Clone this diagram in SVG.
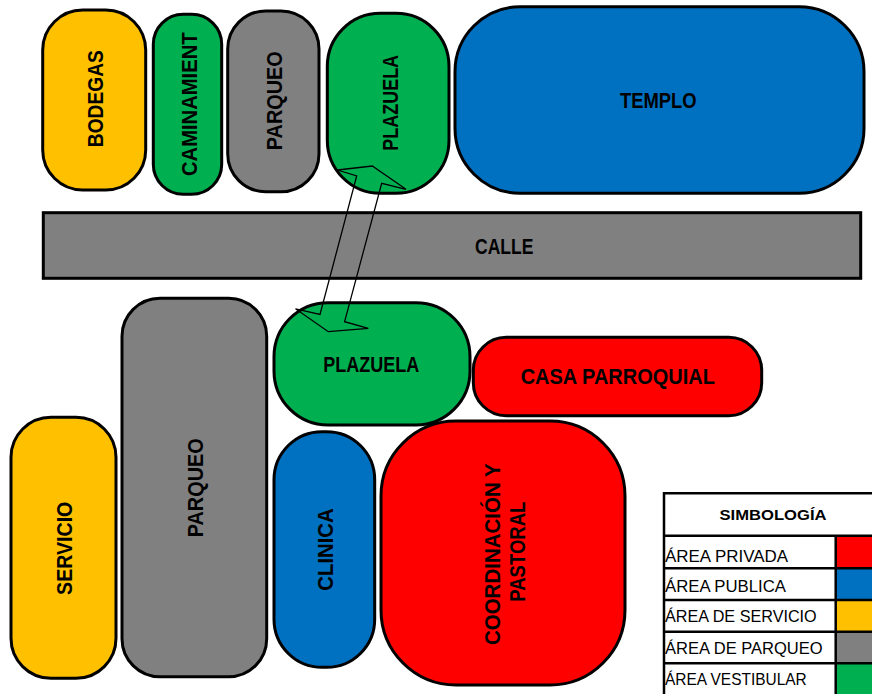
<svg xmlns="http://www.w3.org/2000/svg" width="872" height="694" viewBox="0 0 872 694">
<style>
.n{stroke:#000;stroke-width:3}
.y{fill:#FFC000}.g{fill:#00B050}.gr{fill:#808080}.b{fill:#0070C0}.r{fill:#FF0000}
.t{font-family:"Liberation Sans",Arial,sans-serif;font-weight:bold;font-size:22px;fill:#000;text-anchor:middle}
.lt{font-family:"Liberation Sans",Arial,sans-serif;font-size:16.5px;fill:#000}
.lh{font-family:"Liberation Sans",Arial,sans-serif;font-weight:bold;font-size:15px;fill:#000;text-anchor:middle}
.grid{stroke:#000;stroke-width:2.5;fill:none}
</style>
<rect width="872" height="694" fill="#fff"/>
<g id="bodegas"><rect class="n y" x="42.7" y="10" width="103" height="180" rx="40"/><text class="t" transform="translate(103,98.7) rotate(-90)" textLength="97" lengthAdjust="spacingAndGlyphs">BODEGAS</text></g>
<g id="caminamiento"><rect class="n g" x="153.3" y="14.3" width="68.4" height="180" rx="30"/><text class="t" transform="translate(196.5,104.2) rotate(-90)" textLength="143.7" lengthAdjust="spacingAndGlyphs">CAMINAMIENT</text></g>
<g id="parqueo-top"><rect class="n gr" x="227.7" y="11" width="91.3" height="180.7" rx="38"/><text class="t" transform="translate(282,100.7) rotate(-90)" textLength="99" lengthAdjust="spacingAndGlyphs">PARQUEO</text></g>
<g id="plazuela-top"><rect class="n g" x="327.3" y="13.3" width="121.7" height="180" rx="53"/><text class="t" transform="translate(398,102.8) rotate(-90)" textLength="95.7" lengthAdjust="spacingAndGlyphs">PLAZUELA</text></g>
<g id="templo"><rect class="n b" x="455" y="6.7" width="409" height="186.6" rx="65"/><text class="t" x="658.3" y="108.3" textLength="76.7" lengthAdjust="spacingAndGlyphs">TEMPLO</text></g>
<g id="calle"><rect class="n gr" x="43.3" y="212.7" width="817.4" height="65.6"/><text class="t" x="504.2" y="254" textLength="58.3" lengthAdjust="spacingAndGlyphs">CALLE</text></g>
<g id="parqueo-bottom"><rect class="n gr" x="122" y="298.3" width="144.7" height="378.4" rx="38"/><text class="t" transform="translate(203,487.8) rotate(-90)" textLength="99" lengthAdjust="spacingAndGlyphs">PARQUEO</text></g>
<g id="plazuela-bottom"><rect class="n g" x="274" y="302.7" width="196" height="122.3" rx="54"/><text class="t" x="371.3" y="371.7" textLength="96" lengthAdjust="spacingAndGlyphs">PLAZUELA</text></g>
<g id="casa-parroquial"><rect class="n r" x="473.3" y="337.3" width="288.4" height="78.4" rx="33"/><text class="t" x="617.8" y="384.3" textLength="194.3" lengthAdjust="spacingAndGlyphs">CASA PARROQUIAL</text></g>
<g id="servicio"><rect class="n y" x="11" y="417.3" width="105" height="261" rx="40"/><text class="t" transform="translate(71.5,548.3) rotate(-90)" textLength="93.3" lengthAdjust="spacingAndGlyphs">SERVICIO</text></g>
<g id="clinica"><rect class="n b" x="274" y="431.7" width="100.7" height="235.6" rx="48"/><text class="t" transform="translate(333,549.5) rotate(-90)" textLength="82.3" lengthAdjust="spacingAndGlyphs">CLINICA</text></g>
<g id="coordinacion"><rect class="n r" x="381" y="421" width="244" height="264" rx="75"/><text class="t" transform="translate(500,554.2) rotate(-90)" textLength="181.7" lengthAdjust="spacingAndGlyphs">COORDINACIÓN Y</text><text class="t" transform="translate(525,551.7) rotate(-90)" textLength="100" lengthAdjust="spacingAndGlyphs">PASTORAL</text></g>
<g id="connectors"><polygon points="337.3,170 372.3,166 406,189.3 381.7,183.3 344.6,321.7 368.3,328.3 328.3,331.7 295.5,308.8 320,314.5 356.7,176" fill="none" stroke="#000" stroke-width="1.3" stroke-linejoin="miter"/></g>
<g id="legend">
<rect x="835.7" y="535.7" width="40" height="32.6" class="r"/>
<rect x="835.7" y="568.3" width="40" height="31.7" class="b"/>
<rect x="835.7" y="600" width="40" height="31.7" class="y"/>
<rect x="835.7" y="631.7" width="40" height="31.6" class="gr"/>
<rect x="835.7" y="663.3" width="40" height="35" class="g"/>
<path class="grid" d="M664,700 V493.3 H880 M664,535.7 H880 M664,568.3 H880 M664,600 H880 M664,631.7 H880 M664,663.3 H880 M835.7,535.7 V700"/>
<text class="lh" x="773" y="520" textLength="107" lengthAdjust="spacingAndGlyphs">SIMBOLOGÍA</text>
<text class="lt" x="665" y="561.5" textLength="123" lengthAdjust="spacingAndGlyphs">ÁREA PRIVADA</text>
<text class="lt" x="665" y="592" textLength="121" lengthAdjust="spacingAndGlyphs">ÁREA PUBLICA</text>
<text class="lt" x="665" y="622" textLength="151.7" lengthAdjust="spacingAndGlyphs">ÁREA DE SERVICIO</text>
<text class="lt" x="665" y="653.5" textLength="157.7" lengthAdjust="spacingAndGlyphs">ÁREA DE PARQUEO</text>
<text class="lt" x="665" y="685" textLength="141.7" lengthAdjust="spacingAndGlyphs">ÁREA VESTIBULAR</text>
</g>
</svg>
